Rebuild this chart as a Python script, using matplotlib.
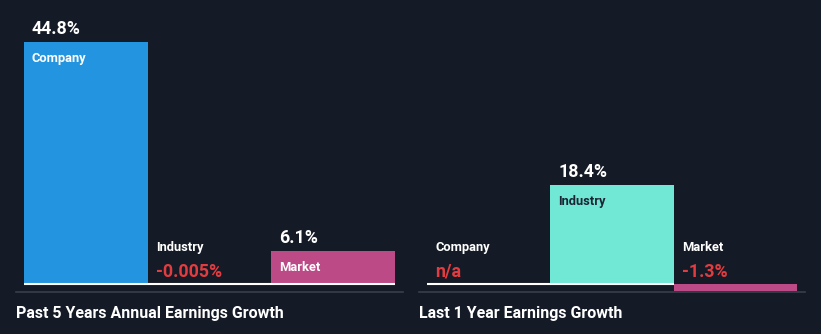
import matplotlib.pyplot as plt
from matplotlib.lines import Line2D

plt.rcParams["font.family"] = ["Roboto", "DejaVu Sans"]
plt.rcParams["font.weight"] = "bold"

BG = "#151b26"
RED = "#e23c40"

categories = ["Company", "Industry", "Market"]
past_5y = [44.8, -0.005, 6.1]
last_1y = [None, 18.4, -1.3]
past_5y_labels = ["44.8%", "-0.005%", "6.1%"]
last_1y_labels = ["n/a", "18.4%", "-1.3%"]
titles = ["Past 5 Years Annual Earnings Growth", "Last 1 Year Earnings Growth"]

bar_colors = ["#2394df", "#71e8d6", "#bc4a87"]
inside_colors = ["white", "#1b2433", "white"]

W, H = 821, 334
SCALE = 5.4  # pixels per percent
PX = 0.72    # points per pixel at dpi 100


def draw_panel(fig, x0, x1, values, labels):
    ax = fig.add_axes([x0 / W, (H - 300) / H, (x1 - x0) / W, 280 / H])
    ax.set_facecolor(BG)
    ax.set_xlim(-0.5, 2.5)
    ax.set_ylim(-16 / SCALE, 264 / SCALE)
    ax.axis("off")

    heights = [0 if v is None else v for v in values]
    ax.bar(range(3), heights, width=1.0, color=bar_colors, linewidth=0)

    for i, (v, s) in enumerate(zip(values, labels)):
        left = i - 0.5
        if v is None or v > -0.5:
            ax.hlines(0, left, left + 1, color="white", lw=1.5, zorder=3)
        if v is not None and v * SCALE > 12:
            ax.annotate(s, (left, v), xytext=(8 * PX, 8 * PX),
                        textcoords="offset points", va="baseline",
                        color="white", fontsize=12.8)
            ax.annotate(categories[i], (left, v), xytext=(8 * PX, -10 * PX),
                        textcoords="offset points", va="top",
                        color=inside_colors[i], fontsize=9.3)
        else:
            ax.annotate(categories[i], (left, 0), xytext=(8 * PX, 33 * PX),
                        textcoords="offset points", va="baseline",
                        color="white", fontsize=9.3)
            ax.annotate(s, (left, 0), xytext=(8 * PX, 7 * PX),
                        textcoords="offset points", va="baseline",
                        color=RED, fontsize=12.8)
    return ax


def main():
    fig = plt.figure(figsize=(W / 100, H / 100), dpi=100, facecolor=BG)

    draw_panel(fig, 24, 395, past_5y, past_5y_labels)
    draw_panel(fig, 427, 797, last_1y, last_1y_labels)

    for (a, b) in [(16, 403), (419, 805)]:
        fig.add_artist(Line2D([a / W, b / W], [(H - 292) / H] * 2,
                              color="#3a404b", lw=1.2))

    fig.text(16 / W, (H - 318) / H, titles[0], color="white",
             fontsize=11.5, va="baseline")
    fig.text(419 / W, (H - 318) / H, titles[1], color="white",
             fontsize=11.5, va="baseline")

    fig.savefig("out.png", dpi=100, facecolor=BG)


if __name__ == "__main__":
    main()
